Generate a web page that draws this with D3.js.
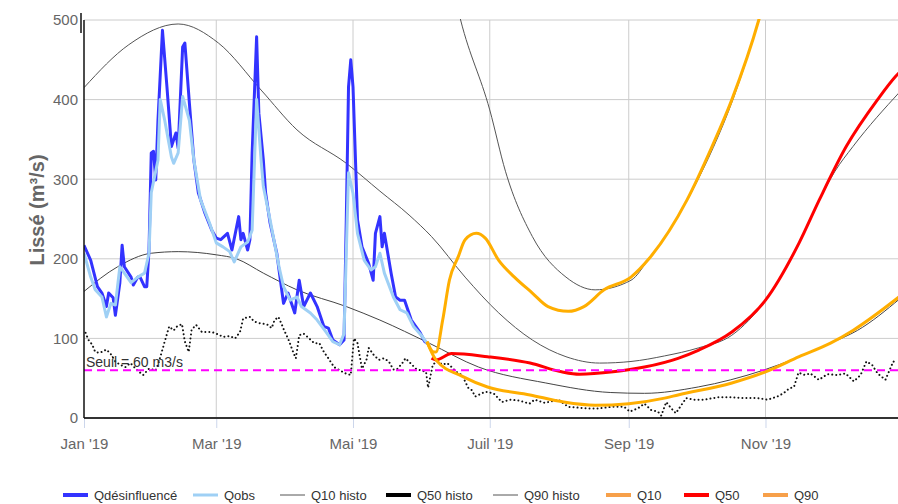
<!DOCTYPE html>
<html>
<head>
<meta charset="utf-8">
<script src="https://cdn.jsdelivr.net/npm/d3@7"></script>
<style>
  body { margin: 0; background: #fff; }
  svg { font-family: "Liberation Sans", Arial, sans-serif; }
</style>
</head>
<body>
<svg id="chart" width="898" height="504"></svg>
<script>
// Débits lissés 2019, [day of year, m3/s]
const qDesinfluence = [[0,217],[3,198],[6,165],[8,157],[10,140],[11,157],[13,151],[14,129],[16,170],[17,217],[18,190],[21,177],[22,167],[24,177],[25,177],[27,165],[28,165],[29,211],[30,333],[31,335],[32,299],[33,374],[35,487],[37,416],[39,341],[41,358],[42,339],[44,466],[45,471],[47,396],[49,324],[51,283],[54,257],[57,236],[59,226],[61,224],[64,232],[66,211],[69,253],[70,224],[71,232],[73,211],[74,224],[75,333],[77,479],[78,383],[80,324],[81,283],[83,245],[86,207],[89,144],[91,157],[94,132],[96,173],[98,140],[101,157],[104,140],[107,115],[109,113],[111,98],[114,92],[116,98],[117,249],[118,416],[119,450],[120,416],[122,249],[124,215],[127,194],[129,173],[130,232],[132,253],[133,215],[134,232],[137,182],[139,152],[141,148],[143,148],[146,123],[149,111],[150,107],[152,96],[154,92]];

const qObs = [[0,207],[3,177],[5,161],[8,152],[10,127],[12,144],[14,142],[16,190],[18,182],[21,170],[24,177],[27,182],[29,207],[30,283],[33,324],[34,400],[36,374],[39,328],[40,320],[42,333],[44,404],[47,374],[49,324],[52,274],[56,245],[59,220],[62,215],[65,209],[67,196],[70,215],[73,221],[75,236],[77,400],[79,324],[80,291],[83,249],[87,190],[89,165],[92,148],[95,152],[97,140],[101,132],[104,123],[108,108],[111,96],[114,92],[116,106],[117,207],[118,308],[120,282],[122,232],[125,198],[128,186],[130,190],[132,207],[134,182],[138,152],[141,136],[144,132],[147,115],[151,102],[153,94],[154,92]];

// historical curves
const histoQ10 = [[0,159],[15,190],[30,207],[42,209],[59,205],[68,200],[80,182],[95,161],[117,140],[132,123],[154,94],[176,64],[206,44],[235,32],[250,31],[274,39],[303,60],[333,94],[345,110],[364,150]];
const histoMid = [[0,415],[20,469],[42,495],[60,471],[79,412],[95,362],[117,320],[132,285],[145,255],[155,228],[170,177],[185,132],[200,98],[215,77],[230,69],[244,71],[259,78],[274,88],[289,104],[304,148],[319,220],[328,274],[335,310],[343,341],[364,410]];
const histoQ90 = [[150,760],[160,600],[168,500],[181,387],[188,310],[200,228],[215,177],[228,161],[244,173],[252,200],[262,240],[274,300],[292,420],[301,500],[310,590],[320,680]];
const histoQ50 = [[0.7,107],[2,98],[3.7,92],[5,83],[6.7,82],[8,83],[10,86],[12,80],[14,71],[16,67],[18.5,64],[20.7,69],[23.7,60],[26.4,54],[29,62],[32,60],[33,67],[35,86],[36,96],[38,115],[40,110],[41.5,115],[43.7,118],[45,96],[46.7,83],[48,111],[50,117],[52.6,108],[54.8,108],[57,108],[59,106],[62,102],[65,103],[67.4,100],[69.6,108],[71,125],[74,127],[76,121],[78.5,119],[80.7,118],[82,117],[83.7,113],[85,123],[86.7,127],[88,119],[89.3,110],[90,106],[91.6,96],[93,85],[94.5,75],[96,104],[98,106],[100.4,100],[102.7,94],[105,94],[107,83],[109,75],[111.6,64],[114,60],[116.7,56],[119,54],[120.4,100],[122,94],[124,62],[126,73],[127,88],[129.3,79],[131.6,73],[133.8,75],[136,71],[138,61],[139.6,61],[142,69],[143.4,75],[145.6,69],[148,62],[150,60],[152.6,58],[153.5,38],[155.6,67],[157.5,71],[160,67],[162,69],[164,64],[166,58],[168.6,54],[171.6,37],[173,35],[174.5,27],[179,33],[182.7,31],[186.4,20],[190,23],[194,22],[198.7,18],[201,23],[205.6,19],[211.6,23],[216,14],[220.4,13],[225,12],[229.3,12],[235.3,14],[241,14],[243.4,8],[247,12],[250,18],[253,10],[256,8],[257.5,3],[259.7,20],[262,12],[264,6],[266.4,16],[268.6,25],[272,23],[276.7,23],[282.7,26],[288.6,26],[294.5,25],[300.4,25],[305,23],[309.3,27],[312,31],[314.5,37],[316.7,39],[318.7,57],[321.6,54],[324,56],[327.8,48],[331.6,55],[336,54],[339.7,56],[343.4,46],[346.4,54],[349,71],[351.5,67],[354,56],[357.5,48],[361,71],[362.5,69]];

// forecasts
const prevQ90 = [[153,96],[156,83],[157,83],[160,123],[163,173],[167,203],[170,224],[175,232],[179,226],[185,198],[192,177],[200,157],[207,140],[216,134],[223,140],[232,161],[244,177],[252,200],[269,274],[280,340],[289,400],[301,500],[310,600]];
const prevQ50 = [[155,75],[157,73],[164,81],[180,77],[199,69],[213,58],[221,55],[236,58],[250,64],[265,75],[274,85],[289,108],[304,148],[319,220],[328,274],[340,341],[354,400],[362,429],[364,435]];
const prevQ10 = [[153,96],[157,73],[169,52],[180,39],[199,29],[214,20],[228,16],[243,18],[259,25],[265,29],[289,44],[304,58],[319,77],[333,94],[343,110],[364,153]];

const seuil = 60;
const yTicks = [0, 100, 200, 300, 400, 500];
const tickMonths = [0, 2, 4, 6, 8, 10];
const tickLabels = ["Jan '19", "Mar '19", "Mai '19", "Juil '19", "Sep '19", "Nov '19"];

const legendLabels = ["Qdésinfluencé", "Qobs", "Q10 histo", "Q50 histo", "Q90 histo", "Q10", "Q50", "Q90"];
const legendColors = ["#3333ff", "#9fd0f5", "#555", "#000", "#555", "#f7a04a", "#ff0000", "#f7a04a"];
const legendWidths = [4, 3, 1, 4, 1, 4, 4, 4];
const legendX = [63, 193, 280, 386, 493, 606, 684, 763];

const svg = d3.select('#chart');
const toDate = d => new Date(2019, 0, 1 + Math.floor(d), Math.round((d % 1) * 24));

const x = d3.scaleTime()
  .domain([new Date(2019, 0, 1), new Date(2019, 11, 31)])
  .range([84, 900]);
const y = d3.scaleLinear().domain([0, 500]).range([418, 20]);

svg.append('defs').append('clipPath').attr('id', 'plot-clip')
  .append('rect').attr('x', 84).attr('y', 19).attr('width', 820).attr('height', 400);

// grid
svg.append('g').selectAll('line').data(yTicks.slice(1)).join('line')
  .attr('x1', 84).attr('x2', 898)
  .attr('y1', d => y(d)).attr('y2', d => y(d))
  .attr('stroke', '#cccccc').attr('stroke-width', 1);

const tickDates = tickMonths.map(m => new Date(2019, m, 1));
svg.append('g').selectAll('line').data(tickDates.slice(1)).join('line')
  .attr('x1', d => x(d)).attr('x2', d => x(d))
  .attr('y1', 20).attr('y2', 418)
  .attr('stroke', '#cccccc').attr('stroke-width', 1);

// x axis
const xAxis = svg.append('g')
  .attr('transform', 'translate(0,418)')
  .call(d3.axisBottom(x).tickValues(tickDates).tickSize(10).tickPadding(10)
    .tickFormat((d, i) => tickLabels[i]));
xAxis.select('.domain').remove();
xAxis.selectAll('.tick line').attr('stroke', '#ccd6eb');
xAxis.selectAll('.tick text').attr('fill', '#666').style('font-size', '15px')
  .style('font-family', '"Liberation Sans", Arial, sans-serif');

// y axis labels
const yAxis = svg.append('g')
  .attr('transform', 'translate(84,0)')
  .call(d3.axisLeft(y).tickValues(yTicks).tickSize(0).tickPadding(6));
yAxis.select('.domain').remove();
yAxis.selectAll('.tick text').attr('fill', '#666').style('font-size', '15px')
  .style('font-family', '"Liberation Sans", Arial, sans-serif');

svg.append('text')
  .attr('transform', 'translate(44,210) rotate(-90)')
  .attr('text-anchor', 'middle')
  .attr('fill', '#666')
  .style('font-size', '20px').style('font-weight', 'bold')
  .text('Lissé (m³/s)');

const plot = svg.append('g').attr('clip-path', 'url(#plot-clip)');

const smooth = d3.line().x(d => x(toDate(d[0]))).y(d => y(d[1])).curve(d3.curveMonotoneX);
const straight = d3.line().x(d => x(toDate(d[0]))).y(d => y(d[1]));

function draw(data, gen, color, w, extra) {
  const p = plot.append('path').datum(data)
    .attr('d', gen).attr('fill', 'none')
    .attr('stroke', color).attr('stroke-width', w)
    .attr('stroke-linejoin', 'round');
  if (extra) extra(p);
  return p;
}

// historical
draw(histoQ90, smooth, '#555', 1);
draw(histoMid, smooth, '#555', 1);
draw(histoQ10, smooth, '#444', 1);
draw(histoQ50, straight, '#111', 2, p => p
  .attr('stroke-dasharray', '0.01,4').attr('stroke-linecap', 'round'));

// observed
draw(qDesinfluence, straight, '#3333ff', 3);
draw(qObs, straight, '#9fd0f5', 3);

// forecasts
draw(prevQ90, smooth, '#ffae00', 3);
draw(prevQ50, smooth, '#ff0000', 3);

// threshold
plot.append('line')
  .attr('x1', 84).attr('x2', 898)
  .attr('y1', y(seuil)).attr('y2', y(seuil))
  .attr('stroke', '#ff00ff').attr('stroke-width', 2)
  .attr('stroke-dasharray', '8,5');

draw(prevQ10, smooth, '#ffae00', 3);

svg.append('text')
  .attr('x', 86).attr('y', y(seuil) - 3)
  .attr('fill', '#333').style('font-size', '14px')
  .text('Seuil = ' + seuil + ' m3/s');

// axis lines
svg.append('line').attr('x1', 84).attr('x2', 898).attr('y1', 418).attr('y2', 418)
  .attr('stroke', '#333').attr('stroke-width', 2);
svg.append('line').attr('x1', 84).attr('x2', 84).attr('y1', 20).attr('y2', 418)
  .attr('stroke', '#111').attr('stroke-width', 1.5);
svg.append('line').attr('x1', 81).attr('x2', 81).attr('y1', 13).attr('y2', 33)
  .attr('stroke', '#111').attr('stroke-width', 1.5);

// legend
const legend = svg.append('g').selectAll('g').data(legendLabels).join('g')
  .attr('transform', (d, i) => `translate(${legendX[i]},495)`);
legend.append('line')
  .attr('x1', 0).attr('x2', 25).attr('y1', 0).attr('y2', 0)
  .attr('stroke', (d, i) => legendColors[i])
  .attr('stroke-width', (d, i) => legendWidths[i]);
legend.append('text')
  .attr('x', 31).attr('y', 5)
  .attr('fill', '#333').style('font-size', '13px')
  .text(d => d);
</script>
</body>
</html>
